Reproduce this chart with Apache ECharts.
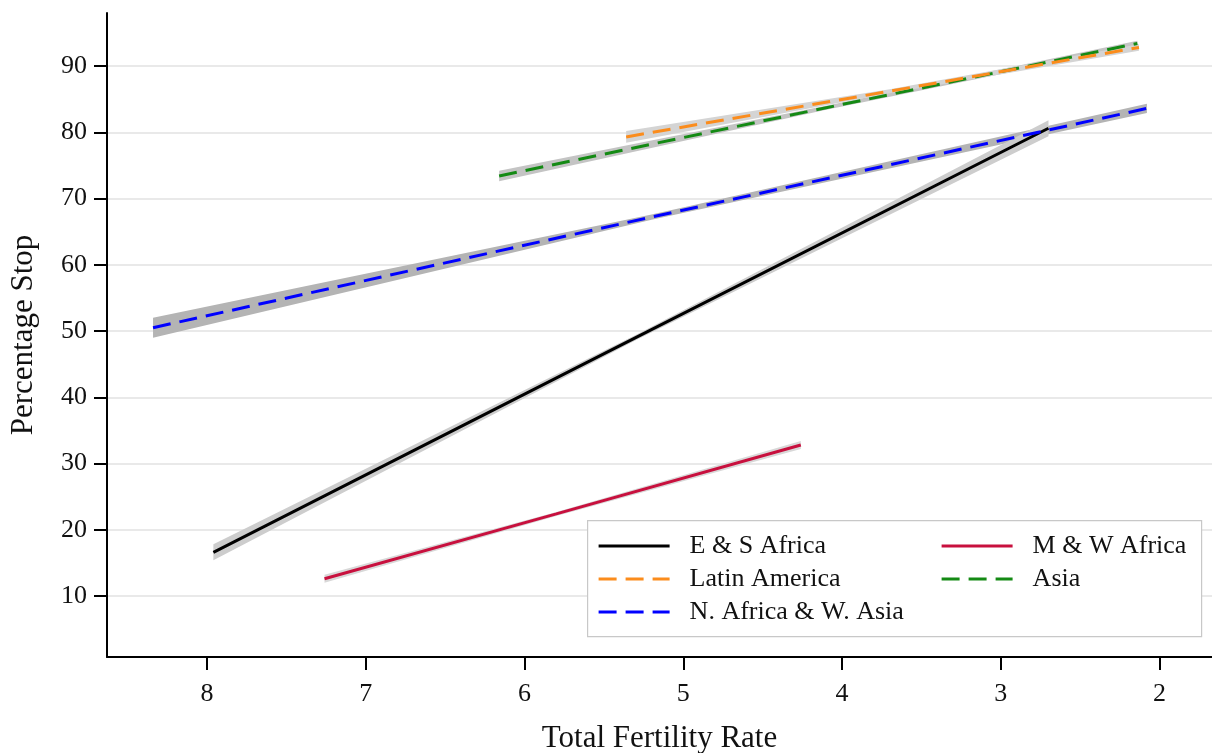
<!DOCTYPE html>
<html>
<head>
<meta charset="utf-8">
<script src="https://cdn.jsdelivr.net/npm/echarts@6/dist/echarts.min.js"></script>
<style>html,body{margin:0;padding:0;background:#fff}#c{width:1212px;height:753px}</style>
</head>
<body>
<div id="c"></div>
<script>
// ---- data ----
const xTicks = [2, 3, 4, 5, 6, 7, 8];
const yTicks = [10, 20, 30, 40, 50, 60, 70, 80, 90];

const esAfricaTfr  = [7.96, 5.3, 2.70];
const esAfricaFit  = [16.6, 49.0, 80.6];
const esAfricaLow  = [15.4, 48.6, 79.4];
const esAfricaHigh = [17.8, 49.4, 81.8];

const mwAfricaTfr  = [7.26, 5.8, 4.26];
const mwAfricaFit  = [12.6, 22.4, 32.8];
const mwAfricaLow  = [12.0, 22.1, 32.2];
const mwAfricaHigh = [13.2, 22.7, 33.4];

const latinTfr  = [5.36, 3.7, 2.13];
const latinFit  = [79.3, 86.2, 92.8];
const latinLow  = [78.4, 85.9, 92.3];
const latinHigh = [80.2, 86.5, 93.3];

const naWaTfr  = [8.34, 5.2, 2.08];
const naWaFit  = [50.5, 67.2, 83.6];
const naWaLow  = [49.0, 66.8, 82.9];
const naWaHigh = [52.0, 67.6, 84.3];

const asiaTfr  = [6.16, 4.1, 2.14];
const asiaFit  = [73.4, 83.7, 93.4];
const asiaLow  = [72.6, 83.4, 93.0];
const asiaHigh = [74.2, 84.0, 93.8];

const names = ['E & S Africa', 'Latin America', 'N. Africa & W. Asia', 'M & W Africa', 'Asia'];

// ---- build ----
const FONT = 'Liberation Serif';
const DASH = [18, 9];
function pairs(xs, ys) { return xs.map((x, i) => [x, ys[i]]); }
function band(tfr, low, high, color) {
  return {
    type: 'custom', silent: true, z: 1, clip: false,
    data: [[tfr[0], low[0]]],
    renderItem: function (p, api) {
      const top = tfr.map((t, i) => api.coord([t, high[i]]));
      const bot = tfr.map((t, i) => api.coord([t, low[i]])).reverse();
      return { type: 'polygon', shape: { points: top.concat(bot) }, style: { fill: color } };
    }
  };
}
function fitLine(name, tfr, fit, color, dashed) {
  return {
    name: name, type: 'line', z: 3, symbol: 'none', silent: true,
    data: pairs(tfr, fit),
    lineStyle: { color: color, width: 3, type: dashed ? DASH : 'solid', cap: 'butt' },
    itemStyle: { color: color }
  };
}
const colors = { es: '#000000', mw: '#c8103e', la: '#fb8c1c', na: '#0000ff', as: '#148a14' };

const legendBase = {
  orient: 'vertical', top: 533, padding: 0,
  itemWidth: 71, itemHeight: 14, itemGap: 7, z: 10, selectedMode: false,
  itemStyle: { opacity: 0 },
  lineStyle: { width: 3.2 },
  textStyle: { fontFamily: FONT, fontSize: 26, color: '#111', lineHeight: 26, padding: [0, 0, 0, 15] }
};

const chart = echarts.init(document.getElementById('c'), null, { renderer: 'canvas' });
chart.setOption({
  animation: false,
  backgroundColor: '#ffffff',
  textStyle: { fontFamily: FONT },
  grid: { left: 107, right: 0, top: 13, bottom: 96, containLabel: false, outerBoundsMode: 'none' },
  xAxis: {
    type: 'value', inverse: true, min: 1.67, max: 8.63,
    name: 'Total Fertility Rate', nameLocation: 'middle', nameGap: 66,
    nameTextStyle: { fontFamily: FONT, fontSize: 31, color: '#111' },
    axisLine: { show: true, onZero: false, lineStyle: { color: '#000', width: 2 } },
    axisTick: { show: true, length: 13, customValues: xTicks, lineStyle: { color: '#000', width: 2 } },
    axisLabel: { customValues: xTicks, margin: 24, fontFamily: FONT, fontSize: 26, color: '#111' },
    splitLine: { show: false }
  },
  yAxis: {
    type: 'value', min: 0.8, max: 98,
    name: 'Percentage Stop', nameLocation: 'middle', nameGap: 68,
    nameTextStyle: { fontFamily: FONT, fontSize: 31, color: '#111' },
    axisLine: { show: true, onZero: false, lineStyle: { color: '#000', width: 2 } },
    axisTick: { show: true, length: 13, customValues: yTicks, lineStyle: { color: '#000', width: 2 } },
    axisLabel: { customValues: yTicks, margin: 20, fontFamily: FONT, fontSize: 26, color: '#111' },
    splitLine: { show: true, lineStyle: { color: '#e2e2e2', width: 1.5 } }
  },
  graphic: [{
    type: 'rect', left: 587, top: 520, z: 5,
    shape: { width: 614, height: 116 },
    style: { fill: '#fff', stroke: '#c8c8c8', lineWidth: 1.2 }
  }],
  legend: [
    Object.assign({}, legendBase, { data: [names[0], names[1], names[2]], left: 597 }),
    Object.assign({}, legendBase, { data: [names[3], names[4]], left: 940 })
  ],
  series: [
    band(naWaTfr, naWaLow, naWaHigh, '#b4b4b4'),
    band(asiaTfr, asiaLow, asiaHigh, '#c4c4c4'),
    band(latinTfr, latinLow, latinHigh, '#d4d4d4'),
    band(esAfricaTfr, esAfricaLow, esAfricaHigh, '#cdcdcd'),
    band(mwAfricaTfr, mwAfricaLow, mwAfricaHigh, '#d8d8d8'),
    fitLine(names[0], esAfricaTfr, esAfricaFit, colors.es, false),
    fitLine(names[3], mwAfricaTfr, mwAfricaFit, colors.mw, false),
    fitLine(names[2], naWaTfr, naWaFit, colors.na, true),
    fitLine(names[4], asiaTfr, asiaFit, colors.as, true),
    fitLine(names[1], latinTfr, latinFit, colors.la, true)
  ]
});
</script>
</body>
</html>
